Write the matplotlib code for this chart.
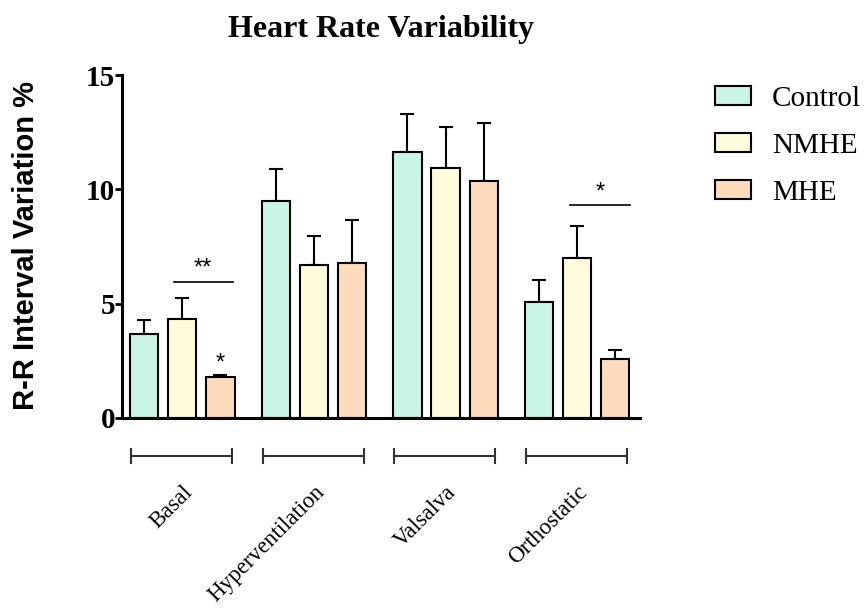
import numpy as np
import matplotlib
matplotlib.use("Agg")
import matplotlib.pyplot as plt
from matplotlib.patches import Patch

# data
conditions = ["Basal", "Hyperventilation", "Valsalva", "Orthostatic"]
groups = ["Control", "NMHE", "MHE"]
control_mean = [3.67, 9.47, 11.63, 5.09]
control_sem = [0.63, 1.43, 1.68, 0.93]
nmhe_mean = [4.33, 6.70, 10.93, 6.98]
nmhe_sem = [0.92, 1.28, 1.80, 1.40]
mhe_mean = [1.80, 6.78, 10.36, 2.56]
mhe_sem = [0.08, 1.90, 2.52, 0.41]
colors = ["#C8F5E6", "#FFFCDC", "#FDDCBE"]

serif = ["Liberation Serif", "DejaVu Serif"]
sans = ["Liberation Sans", "DejaVu Sans"]

fig = plt.figure(figsize=(8.66, 6.08), dpi=100)
ax = fig.add_axes([122/866, 1-418/608, (640-122)/866, (418-75)/608])

x = np.arange(len(conditions))
width = 0.213
offset = 0.289
means = [control_mean, nmhe_mean, mhe_mean]
sems = [control_sem, nmhe_sem, mhe_sem]
for i in range(3):
    pos = x + (i-1)*offset
    ax.bar(pos, means[i], width, color=colors[i], edgecolor="black",
           linewidth=1.5, zorder=2)
    ax.errorbar(pos, means[i], yerr=[np.zeros(len(x)), sems[i]], fmt="none",
                ecolor="black", elinewidth=1.5, capsize=5, capthick=1.5, zorder=1)

ax.set_xlim(-0.46, 3.479)
ax.set_ylim(0, 15)
ax.set_yticks([0, 5, 10, 15])
ax.set_xticks([])
for lab in ax.get_yticklabels():
    lab.set_family(serif)
    lab.set_fontweight("bold")
    lab.set_fontsize(21)
ax.tick_params(axis="y", length=5, width=2, direction="out", pad=0)
for s in ["top", "right"]:
    ax.spines[s].set_visible(False)
for s in ["left", "bottom"]:
    ax.spines[s].set_linewidth(2.2)

# significance marks
ax.plot([-0.065, 0.384], [5.96, 5.96], color="black", lw=1.2)
ax.text(0.156, 6.05, "**", ha="center", va="bottom", fontsize=17, family=sans)
ax.text(0.289, 1.9, "*", ha="center", va="bottom", fontsize=17, family=sans)
ax.plot([2.947, 3.40], [9.31, 9.31], color="black", lw=1.2)
ax.text(3.18, 9.4, "*", ha="center", va="bottom", fontsize=17, family=sans)

# group brackets and labels below the axis
yb = -1.66
for xi, name in zip(x, conditions):
    ax.plot([xi-0.39, xi+0.38], [yb, yb], color="#333333", lw=1.5, clip_on=False)
    for xe in (xi-0.39, xi+0.38):
        ax.plot([xe, xe], [yb-0.3, yb+0.3], color="#333333", lw=1.5, clip_on=False)
    ax.text(xi+0.0, -2.8, name, rotation=45, rotation_mode="anchor",
            ha="right", va="top", fontsize=16.5, family=serif, clip_on=False)

fig.text(26/866, 1-246/608, "R-R Interval Variation %", rotation=90,
         ha="center", va="center", fontsize=21, fontweight="bold", family=sans)
fig.text(381/866, 1-30/608, "Heart Rate Variability", ha="center", va="center",
         fontsize=23, fontweight="bold", family=serif)

handles = [Patch(facecolor=c, edgecolor="black", linewidth=1.5) for c in colors]
fig.legend(handles, groups, loc="upper left", bbox_to_anchor=(715/866, 1-86/608),
           frameon=False, borderpad=0, borderaxespad=0, handlelength=1.25,
           handleheight=0.6, handletextpad=0.7, labelspacing=0.72,
           prop={"family": serif, "size": 21})

fig.savefig("out.png", dpi=100)
